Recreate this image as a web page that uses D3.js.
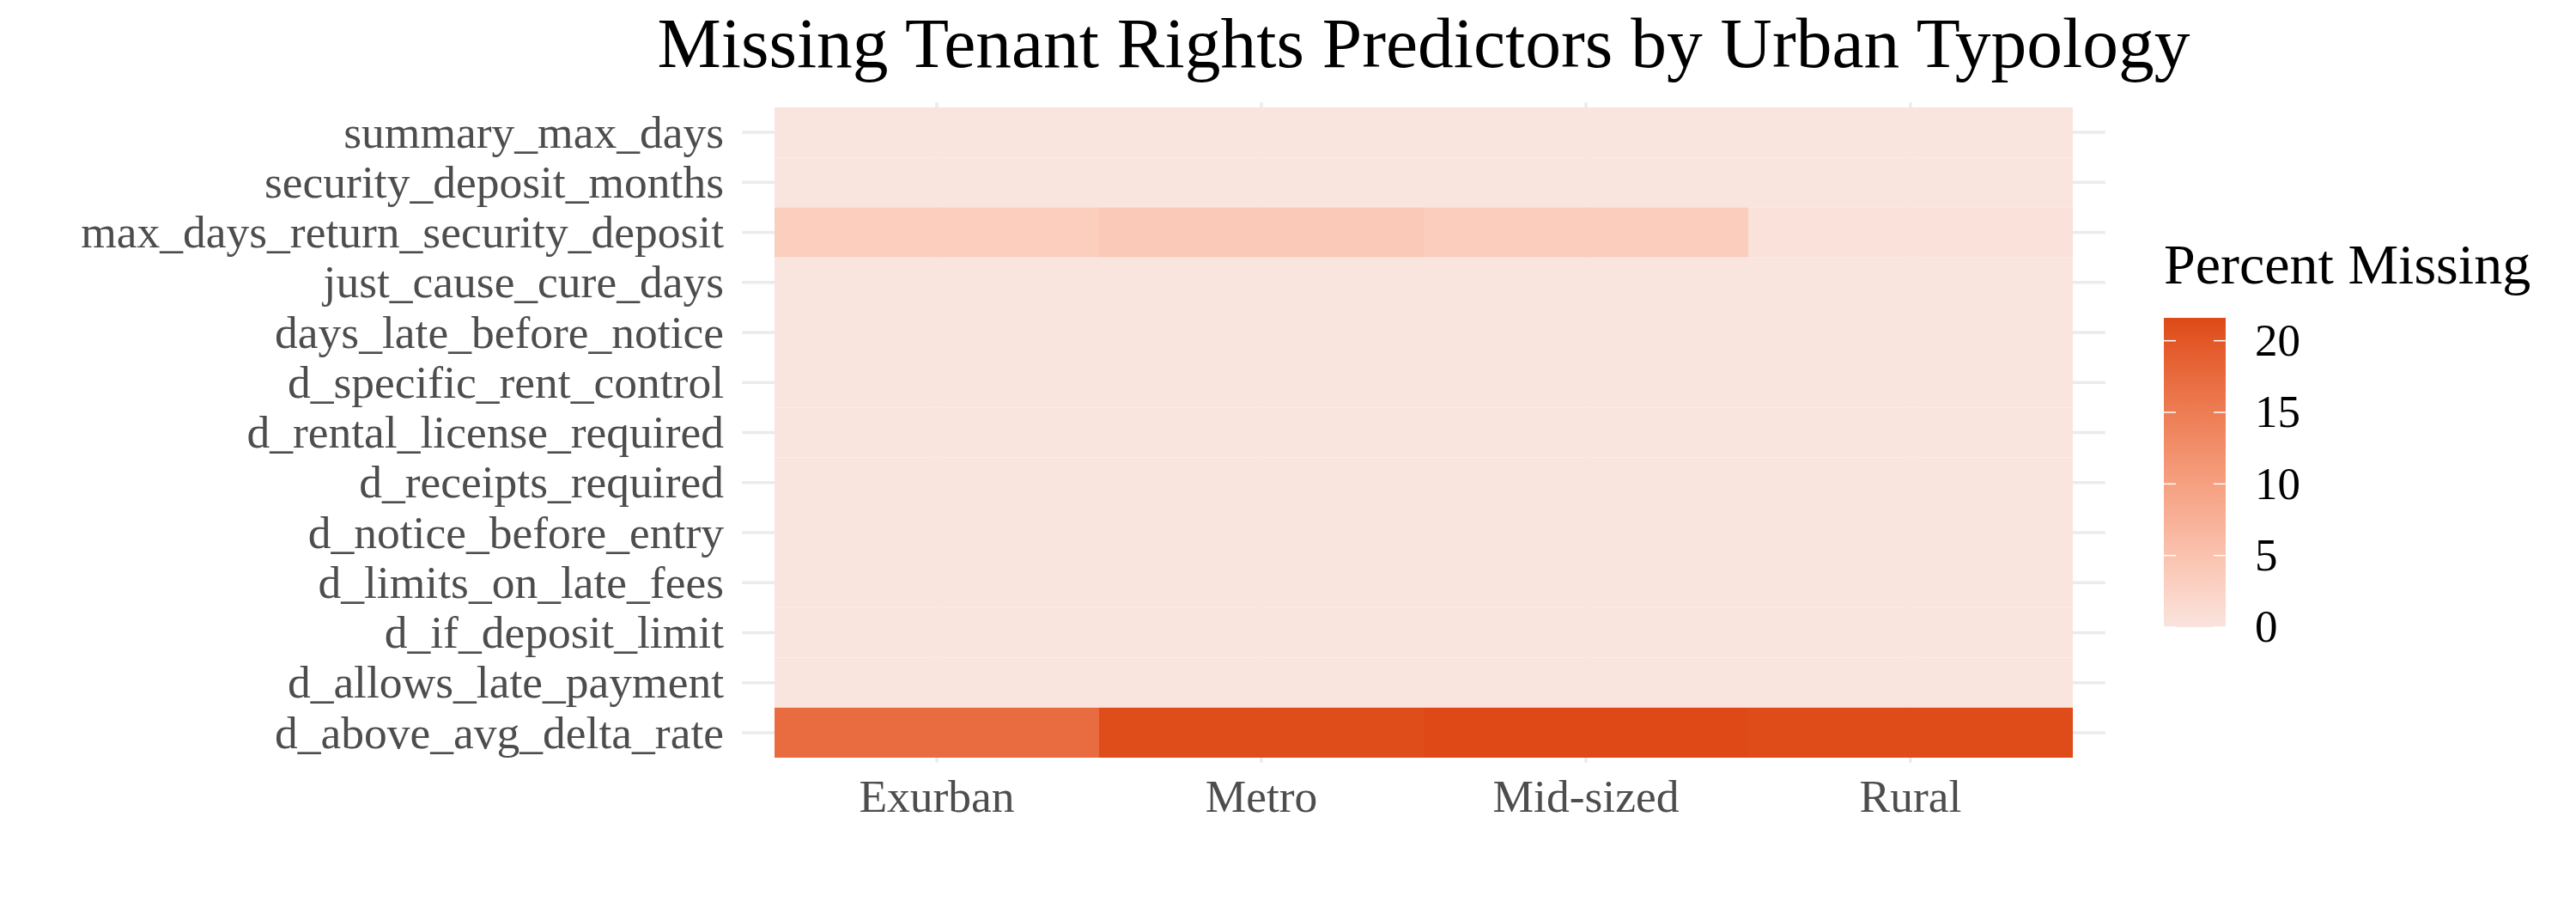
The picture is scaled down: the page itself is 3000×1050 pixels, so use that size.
<!DOCTYPE html>
<html>
<head>
<meta charset="utf-8">
<script src="https://cdn.jsdelivr.net/npm/d3@7"></script>
<style>
  body { margin: 0; background: #fff; }
  svg text { font-family: "Liberation Serif", "Times New Roman", serif; }
</style>
</head>
<body>
<div id="chart"></div>
<script>
// categories
const typologies = ["Exurban", "Metro", "Mid-sized", "Rural"];
const predictors = [
  "summary_max_days",
  "security_deposit_months",
  "max_days_return_security_deposit",
  "just_cause_cure_days",
  "days_late_before_notice",
  "d_specific_rent_control",
  "d_rental_license_required",
  "d_receipts_required",
  "d_notice_before_entry",
  "d_limits_on_late_fees",
  "d_if_deposit_limit",
  "d_allows_late_payment",
  "d_above_avg_delta_rate"
];
// percent missing per typology, same order as predictors
const pctExurban  = [0, 0, 3.3, 0, 0, 0, 0, 0, 0, 0, 0, 0, 17.2];
const pctMetro    = [0, 0, 4.0, 0, 0, 0, 0, 0, 0, 0, 0, 0, 21.2];
const pctMidsized = [0, 0, 3.4, 0, 0, 0, 0, 0, 0, 0, 0, 0, 21.6];
const pctRural    = [0, 0, 0.4, 0, 0, 0, 0, 0, 0, 0, 0, 0, 21.3];
const legendTicks = [0, 5, 10, 15, 20];

const series = [pctExurban, pctMetro, pctMidsized, pctRural];
const cells = [];
typologies.forEach((t, j) => {
  predictors.forEach((p, i) => cells.push({typology: t, predictor: p, value: series[j][i]}));
});

const width = 3000, height = 1050;
const svg = d3.select("#chart").append("svg")
  .attr("width", width).attr("height", height);

const x = d3.scaleBand().domain(typologies).range([902, 2414]).padding(0);
const y = d3.scaleBand().domain(predictors).range([125, 882]).padding(0);
const padX = x.bandwidth() * 0.1, padY = y.bandwidth() * 0.1;

const vmax = d3.max(cells, d => d.value);
const color = d3.scaleLinear().domain([0, vmax])
  .range(["#fae4de", "#de4917"]).interpolate(d3.interpolateLab);

// grid lines
const grid = svg.append("g").attr("stroke", "#ebebeb").attr("stroke-width", 3.5);
grid.selectAll("line.h").data(predictors).enter().append("line")
  .attr("x1", x.range()[0] - padX).attr("x2", x.range()[1] + padX)
  .attr("y1", d => y(d) + y.bandwidth() / 2).attr("y2", d => y(d) + y.bandwidth() / 2);
grid.selectAll("line.v").data(typologies).enter().append("line")
  .attr("y1", y.range()[0] - padY).attr("y2", y.range()[1] + padY)
  .attr("x1", d => x(d) + x.bandwidth() / 2).attr("x2", d => x(d) + x.bandwidth() / 2);

// tiles
svg.append("g").selectAll("rect").data(cells).enter().append("rect")
  .attr("x", d => x(d.typology))
  .attr("y", d => y(d.predictor))
  .attr("width", x.bandwidth())
  .attr("height", y.bandwidth())
  .attr("fill", d => color(d.value));

// y labels
svg.append("g").selectAll("text").data(predictors).enter().append("text")
  .attr("x", 843)
  .attr("y", d => y(d) + y.bandwidth() / 2)
  .attr("dy", "0.33em")
  .attr("text-anchor", "end")
  .attr("fill", "#4d4d4d")
  .style("font-size", "53.5px")
  .text(d => d);

// x labels
svg.append("g").selectAll("text").data(typologies).enter().append("text")
  .attr("x", d => x(d) + x.bandwidth() / 2)
  .attr("y", 945)
  .attr("text-anchor", "middle")
  .attr("fill", "#4d4d4d")
  .style("font-size", "53.5px")
  .text(d => d);

// title
svg.append("text")
  .attr("x", (x.range()[0] + x.range()[1]) / 2)
  .attr("y", 78)
  .attr("text-anchor", "middle")
  .attr("fill", "#000")
  .style("font-size", "83.5px")
  .text("Missing Tenant Rights Predictors by Urban Typology");

// legend
const barX = 2520, barW = 72;
const ly = d3.scaleLinear().domain([0, vmax]).range([730, 370]);
const grad = svg.append("defs").append("linearGradient")
  .attr("id", "grad").attr("x1", 0).attr("y1", 1).attr("x2", 0).attr("y2", 0);
d3.range(0, 1.0001, 0.05).forEach(t => {
  grad.append("stop").attr("offset", t).attr("stop-color", color(t * vmax));
});
const legend = svg.append("g");
legend.append("text")
  .attr("x", barX).attr("y", 330)
  .attr("fill", "#000")
  .style("font-size", "66px")
  .text("Percent Missing");
legend.append("rect")
  .attr("x", barX).attr("y", ly(vmax))
  .attr("width", barW).attr("height", ly(0) - ly(vmax))
  .attr("fill", "url(#grad)");
legend.selectAll("line.l").data(legendTicks).enter().append("line")
  .attr("x1", barX).attr("x2", barX + 14)
  .attr("y1", d => ly(d)).attr("y2", d => ly(d))
  .attr("stroke", "#fff").attr("stroke-width", 1.5);
legend.selectAll("line.r").data(legendTicks).enter().append("line")
  .attr("x1", barX + barW - 14).attr("x2", barX + barW)
  .attr("y1", d => ly(d)).attr("y2", d => ly(d))
  .attr("stroke", "#fff").attr("stroke-width", 1.5);
legend.selectAll("text.tick").data(legendTicks).enter().append("text")
  .attr("x", 2626)
  .attr("y", d => ly(d))
  .attr("dy", "0.33em")
  .attr("fill", "#000")
  .style("font-size", "53px")
  .text(d => d);
</script>
</body>
</html>
